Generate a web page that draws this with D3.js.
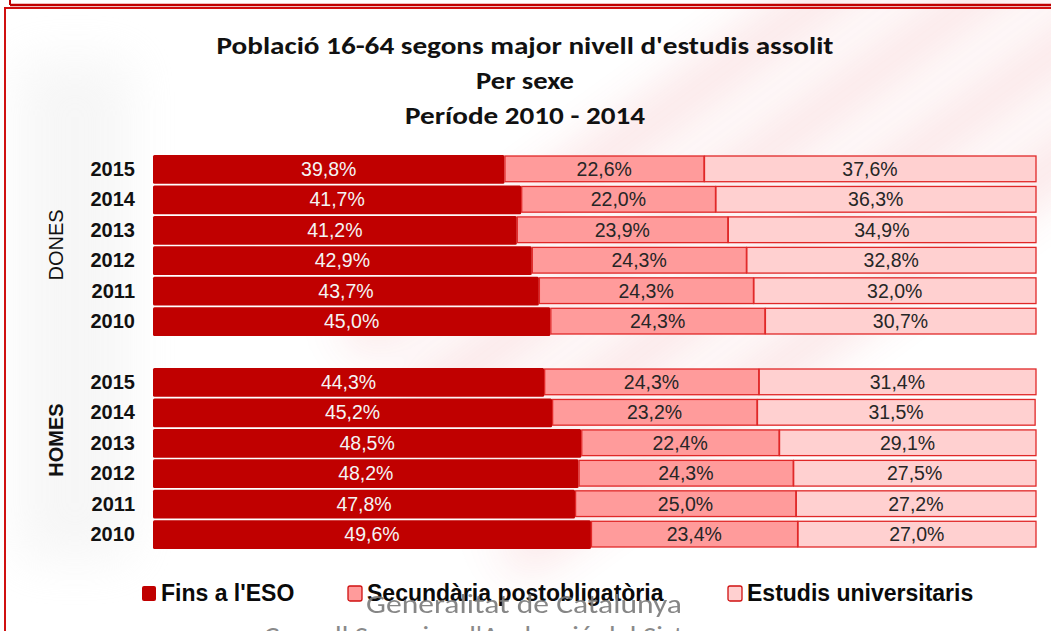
<!DOCTYPE html>
<html>
<head>
<meta charset="utf-8">
<script src="https://cdn.jsdelivr.net/npm/d3@7"></script>
<style>
body { margin: 0; background: #fff; }
text { font-family: "Liberation Sans", Arial, sans-serif; }
</style>
</head>
<body>
<div id="chart"></div>
<script>
const years = ["2015", "2014", "2013", "2012", "2011", "2010"];
const groups = ["DONES", "HOMES"];
const seriesNames = ["Fins a l'ESO", "Secundària postobligatòria", "Estudis universitaris"];

const donesEso = [39.8, 41.7, 41.2, 42.9, 43.7, 45.0];
const donesSec = [22.6, 22.0, 23.9, 24.3, 24.3, 24.3];
const donesUni = [37.6, 36.3, 34.9, 32.8, 32.0, 30.7];

const homesEso = [44.3, 45.2, 48.5, 48.2, 47.8, 49.6];
const homesSec = [24.3, 23.2, 22.4, 24.3, 25.0, 23.4];
const homesUni = [31.4, 31.5, 29.1, 27.5, 27.2, 27.0];

const titleLines = ["Població 16-64 segons major nivell d'estudis assolit", "Per sexe", "Període 2010 - 2014"];

let width = 1051, height = 631;
let fills = ["#C00000", "#FF9B9B", "#FFD0D0"];
let textCols = ["#f4f4f4", "#262626", "#262626"];

let svg = d3.select("#chart")
    .append("svg")
    .attr("width", width)
    .attr("height", height);

// soft background + faint watermark stripes
let defs = svg.append("defs");
defs.append("filter").attr("id", "blur")
    .attr("x", "-50%").attr("y", "-50%").attr("width", "200%").attr("height", "200%")
    .append("feGaussianBlur").attr("stdDeviation", 24);

svg.append("rect").attr("width", width).attr("height", height).attr("fill", "#fff");

let wm = svg.append("g")
    .attr("filter", "url(#blur)")
    .attr("opacity", 0.14)
    .attr("transform", "translate(780,200) rotate(-36)");
[-160, -70, 20, 110].forEach(function (o) {
    wm.append("rect")
        .attr("x", -430).attr("y", o)
        .attr("width", 860).attr("height", 44)
        .attr("fill", "#E0404A");
});
svg.append("rect")
    .attr("x", 20).attr("y", 60).attr("width", 110).attr("height", 500)
    .attr("fill", "#e6e6e6").attr("opacity", 0.35).attr("filter", "url(#blur)");

// frame lines
svg.append("line").attr("x1", 10).attr("x2", width).attr("y1", 5).attr("y2", 5)
    .attr("stroke", "#C00000").attr("stroke-width", 2.5);
svg.append("line").attr("x1", 10).attr("x2", 10).attr("y1", 0).attr("y2", 5)
    .attr("stroke", "#C00000").attr("stroke-width", 2);
svg.append("path").attr("d", "M5," + height + "V8H" + width)
    .attr("fill", "none").attr("stroke", "#D01010").attr("stroke-width", 2);

// title
svg.selectAll(".title")
    .data(titleLines)
    .enter()
    .append("text")
    .attr("class", "title")
    .attr("x", 525)
    .attr("y", (d, i) => 54 + i * 35)
    .attr("text-anchor", "middle")
    .style("font-family", "Carlito, 'Open Sans', sans-serif")
    .style("font-weight", "600")
    .style("font-size", "24px")
    .attr("fill", "#111")
    .attr("textLength", (d, i) => [617, 98, 240][i])
    .attr("lengthAdjust", "spacingAndGlyphs")
    .text(d => d);

let x = d3.scaleLinear()
    .domain([0, 100])
    .range([153, 1036]);

let stack = d3.stack().keys([0, 1, 2]);

function drawGroup(name, eso, sec, uni, top, bottom, labelY, bold) {
    let rows = years.map((yr, i) => ({year: yr, 0: eso[i], 1: sec[i], 2: uni[i]}));
    let y = d3.scaleBand()
        .domain(years)
        .range([top, bottom])
        .paddingInner(0.09);

    let g = svg.append("g");
    let layers = stack(rows);

    layers.forEach(function (layer, k) {
        g.selectAll(".seg" + k)
            .data(layer)
            .enter()
            .append("rect")
            .attr("x", d => x(d[0]) + (k ? 0.5 : 0))
            .attr("y", d => y(d.data.year) + (k ? 1 : 0))
            .attr("width", d => x(d[1]) - x(d[0]) - (k ? 0.5 : 0))
            .attr("height", y.bandwidth() - (k ? 2 : -1))
            .attr("rx", k ? 0 : 1.5)
            .attr("fill", fills[k])
            .attr("stroke", k ? "#E02828" : "none")
            .attr("stroke-width", 1.3);
    });

    layers.forEach(function (layer, k) {
        g.selectAll(".lab" + k)
            .data(layer)
            .enter()
            .append("text")
            .attr("x", d => (x(d[0]) + x(d[1])) / 2)
            .attr("y", d => y(d.data.year) + y.bandwidth() / 2 + 7)
            .attr("text-anchor", "middle")
            .style("font-size", "19.5px")
            .attr("fill", textCols[k])
            .text(d => (d[1] - d[0]).toFixed(1).replace(".", ",") + "%");
    });

    g.selectAll(".year")
        .data(years)
        .enter()
        .append("text")
        .attr("x", 135)
        .attr("y", d => y(d) + y.bandwidth() / 2 + 7)
        .attr("text-anchor", "end")
        .style("font-size", "20px")
        .style("font-weight", "bold")
        .attr("fill", "#111")
        .text(d => d);

    g.append("text")
        .attr("transform", "translate(63," + labelY + ") rotate(-90)")
        .attr("text-anchor", "middle")
        .style("font-size", "20px")
        .style("font-weight", bold ? "bold" : "normal")
        .attr("fill", "#111")
        .text(name);
}

drawGroup(groups[0], donesEso, donesSec, donesUni, 155, 335, 245, false);
drawGroup(groups[1], homesEso, homesSec, homesUni, 368, 548, 440, true);

// legend
let legendX = [142, 348, 728];
let legend = svg.selectAll(".legend")
    .data(seriesNames)
    .enter()
    .append("g")
    .attr("class", "legend")
    .attr("transform", (d, i) => "translate(" + legendX[i] + ",0)");

legend.append("rect")
    .attr("x", 0).attr("y", 586)
    .attr("width", 14).attr("height", 15)
    .attr("rx", 2)
    .attr("fill", (d, i) => fills[i])
    .attr("stroke", (d, i) => i ? "#D01010" : "none")
    .attr("stroke-width", 1.3);

legend.append("text")
    .attr("x", 19)
    .attr("y", 601)
    .style("font-size", "23px")
    .style("font-weight", "bold")
    .attr("fill", "#0a0a0a")
    .text(d => d);

// watermark texts
svg.append("text")
    .attr("x", 366).attr("y", 613)
    .attr("textLength", 316).attr("lengthAdjust", "spacingAndGlyphs")
    .style("font-family", "Carlito, 'Open Sans', sans-serif")
    .style("font-size", "27px")
    .attr("fill", "#7a7a7a").attr("opacity", 0.9)
    .text("Generalitat de Catalunya");

svg.append("text")
    .attr("x", 264).attr("y", 645)
    .attr("textLength", 470).attr("lengthAdjust", "spacingAndGlyphs")
    .style("font-family", "Carlito, 'Open Sans', sans-serif")
    .style("font-size", "27px")
    .attr("fill", "#8a8a8a")
    .text("Consell Superior d'Avaluació del Sistema");
</script>
</body>
</html>
